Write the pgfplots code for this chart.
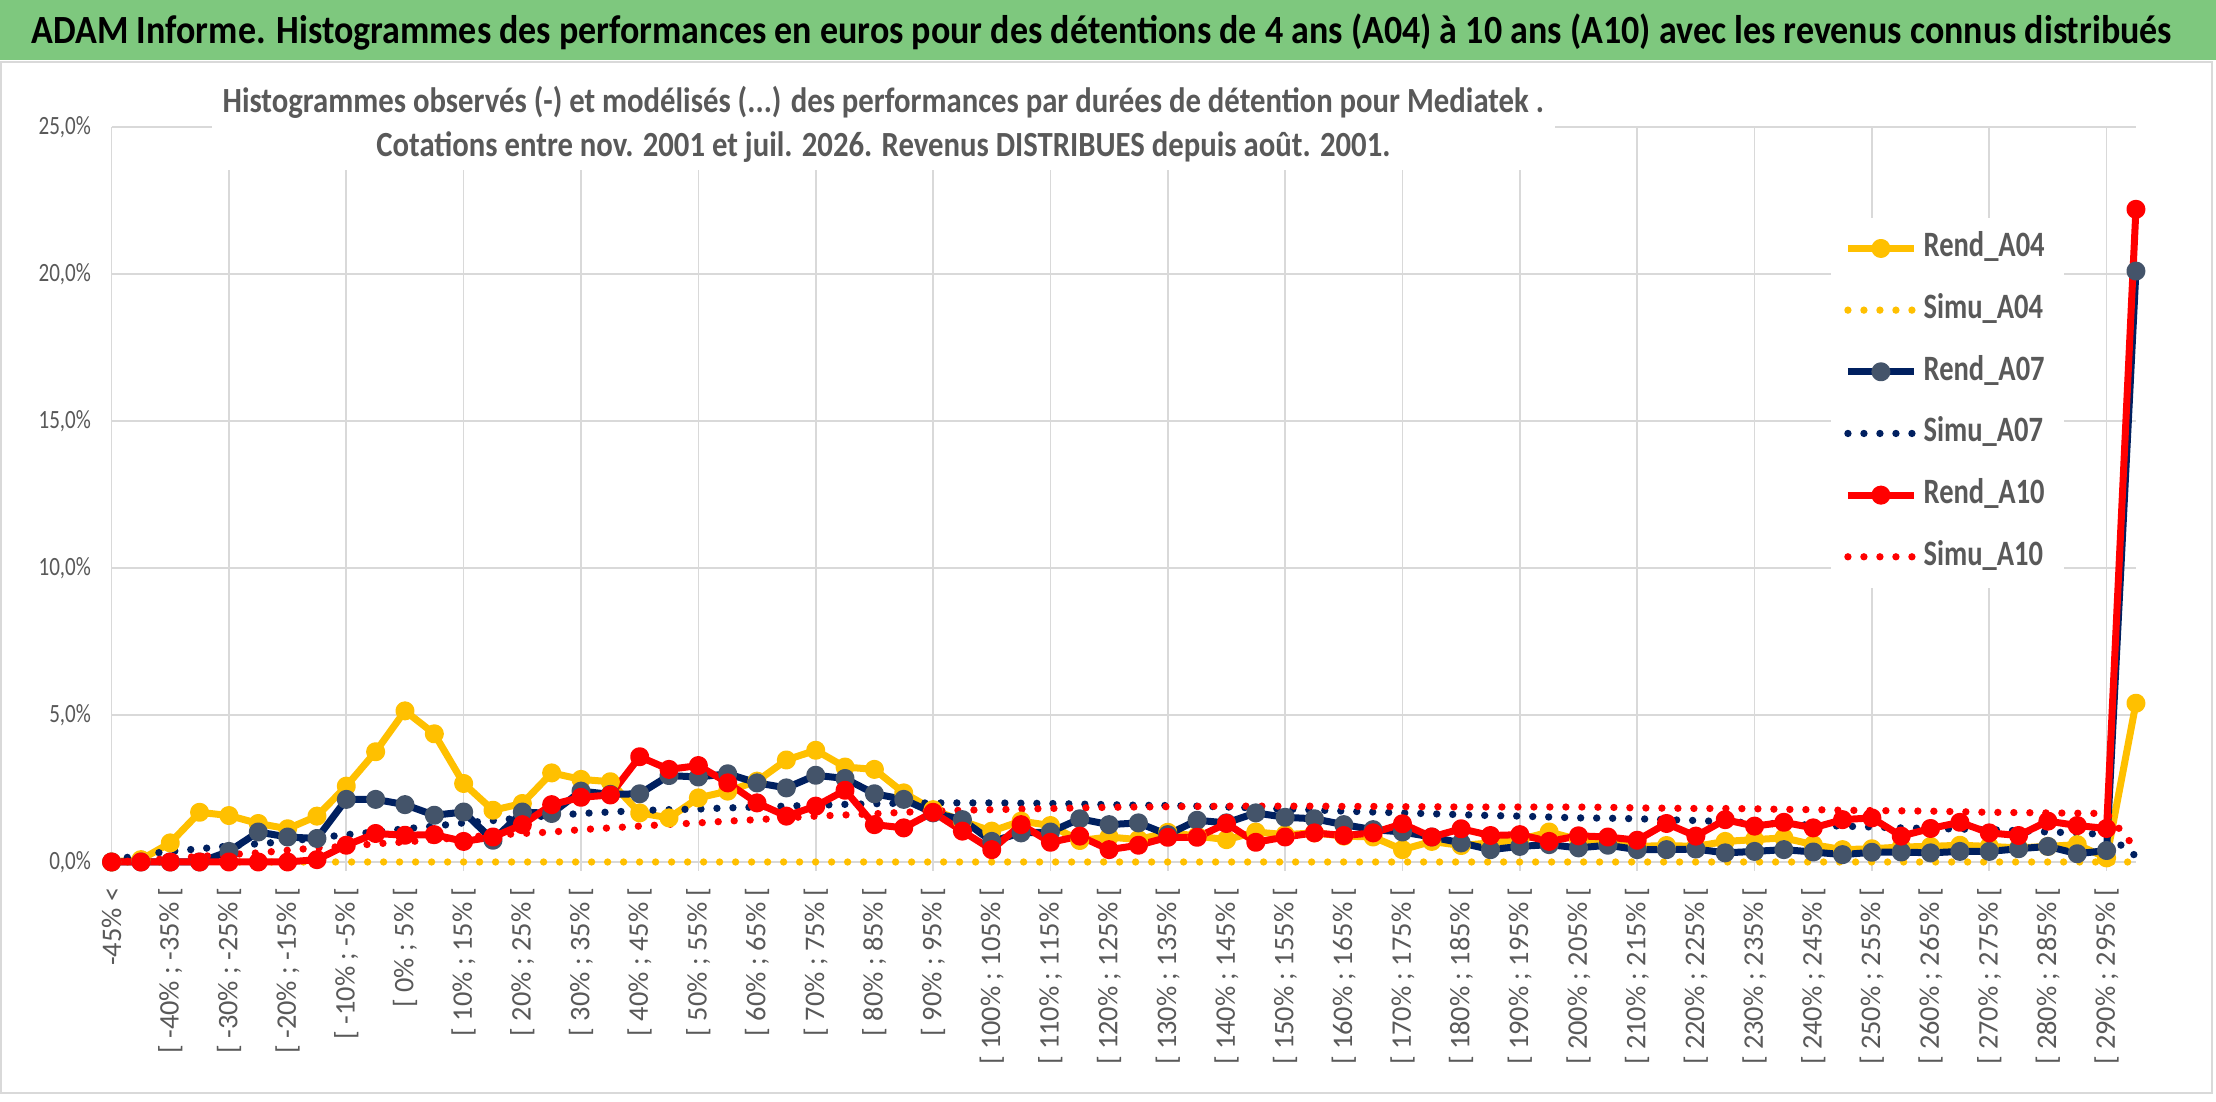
\documentclass[border=0pt]{standalone}
\usepackage{fontspec}
\setmainfont{Carlito}[FakeStretch=0.8]
\newfontfamily\titlefont{Carlito}[FakeStretch=0.9]
\newfontfamily\charttitlefont{Carlito}[FakeStretch=0.87]
\newfontfamily\xlabfont{Carlito}
\usepackage{pgfplots}
\pgfplotsset{compat=1.18}
\usepackage{pgfplotstable}
\definecolor{cyel}{HTML}{FFC000}
\definecolor{cnavy}{HTML}{002060}
\definecolor{cnavymk}{HTML}{44546A}
\definecolor{cred}{HTML}{FF0000}
\definecolor{gridgray}{HTML}{D9D9D9}
\definecolor{textgray}{HTML}{595959}
\definecolor{titlegreen}{HTML}{7EC87E}

\pgfplotstableread{
i a04 s04 a07 s07 a10 s10
0 0.00 0 0.00 0.05 0.00 0.00
1 0.08 0 0.00 0.25 0.00 0.05
2 0.65 0 0.00 0.36 0.00 0.12
3 1.69 0 0.00 0.45 0.00 0.19
4 1.58 0 0.36 0.54 0.00 0.25
5 1.31 0 1.02 0.62 0.00 0.31
6 1.13 0 0.85 0.70 0.00 0.40
7 1.56 0 0.80 0.82 0.08 0.48
8 2.58 0 2.13 0.93 0.57 0.53
9 3.75 0 2.13 1.02 0.97 0.62
10 5.14 0 1.95 1.13 0.91 0.68
11 4.36 0 1.59 1.22 0.93 0.76
12 2.67 0 1.70 1.33 0.70 0.84
13 1.76 0 0.74 1.41 0.85 0.91
14 1.99 0 1.70 1.50 1.27 0.97
15 3.03 0 1.65 1.58 1.95 1.02
16 2.81 0 2.41 1.65 2.20 1.10
17 2.73 0 2.30 1.70 2.28 1.16
18 1.67 0 2.32 1.75 3.58 1.22
19 1.50 0 2.94 1.78 3.15 1.28
20 2.18 0 2.89 1.80 3.28 1.33
21 2.41 0 3.00 1.84 2.69 1.39
22 2.75 0 2.69 1.87 2.01 1.44
23 3.47 0 2.52 1.90 1.56 1.50
24 3.80 0 2.95 1.93 1.90 1.56
25 3.23 0 2.84 1.96 2.44 1.60
26 3.15 0 2.32 1.98 1.27 1.64
27 2.35 0 2.13 2.00 1.16 1.69
28 1.78 0 1.67 2.01 1.69 1.73
29 1.39 0 1.44 2.01 1.05 1.76
30 1.05 0 0.70 2.01 0.42 1.78
31 1.39 0 0.99 2.00 1.27 1.80
32 1.24 0 1.02 1.99 0.67 1.82
33 0.73 0 1.47 1.97 0.88 1.84
34 0.85 0 1.27 1.95 0.42 1.86
35 0.76 0 1.33 1.93 0.57 1.87
36 1.01 0 0.93 1.92 0.84 1.88
37 0.88 0 1.42 1.90 0.84 1.89
38 0.76 0 1.33 1.87 1.31 1.90
39 1.02 0 1.67 1.84 0.67 1.90
40 0.93 0 1.52 1.80 0.85 1.90
41 0.99 0 1.47 1.77 0.99 1.90
42 0.88 0 1.27 1.73 0.90 1.89
43 0.85 0 1.10 1.70 0.99 1.89
44 0.42 0 1.02 1.67 1.30 1.88
45 0.70 0 0.85 1.64 0.85 1.88
46 0.56 0 0.65 1.61 1.13 1.87
47 0.65 0 0.42 1.58 0.90 1.87
48 0.76 0 0.53 1.56 0.93 1.87
49 1.02 0 0.59 1.53 0.70 1.87
50 0.76 0 0.48 1.50 0.89 1.87
51 0.65 0 0.57 1.49 0.85 1.86
52 0.53 0 0.42 1.47 0.74 1.84
53 0.56 0 0.42 1.44 1.31 1.83
54 0.53 0 0.44 1.41 0.88 1.82
55 0.70 0 0.31 1.37 1.44 1.82
56 0.76 0 0.36 1.33 1.22 1.81
57 0.82 0 0.42 1.29 1.35 1.79
58 0.59 0 0.34 1.25 1.16 1.78
59 0.42 0 0.25 1.22 1.44 1.76
60 0.45 0 0.33 1.19 1.50 1.75
61 0.51 0 0.34 1.16 0.88 1.74
62 0.53 0 0.31 1.14 1.14 1.73
63 0.57 0 0.36 1.12 1.35 1.71
64 0.53 0 0.36 1.10 0.99 1.69
65 0.48 0 0.45 1.06 0.90 1.68
66 0.53 0 0.53 1.02 1.39 1.67
67 0.59 0 0.28 0.99 1.24 1.66
68 0.14 0 0.39 0.93 1.14 1.65
69 5.40 0 20.10 0.20 22.20 0.45
}\data

\begin{document}
\begin{tikzpicture}
\useasboundingbox (0,0) rectangle (664.8pt,-330.6pt);
\fill[white] (0,0) rectangle (664.8pt,-330.6pt);
\fill[titlegreen] (0,0) rectangle (664.8pt,-18pt);
\node[anchor=base, inner sep=0pt, font=\titlefont\bfseries\fontsize{12}{14}\selectfont, text=black] at (330.6pt,-13pt)
 {ADAM Informe. Histogrammes des performances en euros pour des détentions de 4 ans (A04) à 10 ans (A10) avec les revenus connus distribués};
\draw[gridgray, line width=0.6pt] (0.3pt,-18.6pt) rectangle (663.6pt,-327.9pt);

\begin{axis}[
  at={(33.48pt,-258.6pt)}, anchor=south west,
  scale only axis, width=607.3pt, height=220.5pt,
  xmin=0, xmax=69, ymin=0, ymax=25,
  clip=false,
  axis line style={draw=none},
  xtick pos=bottom, ytick pos=left,
  major tick length=0pt,
  ytick={0,5,10,15,20,25},
  yticklabels={{0,0\%},{5,0\%},{10,0\%},{15,0\%},{20,0\%},{25,0\%}},
  ymajorgrids,
  grid style={gridgray, line width=0.5pt},
  y tick label style={anchor=east, inner xsep=6pt, inner ysep=0pt, font=\fontsize{7.9}{9}\selectfont, text=textgray},
  xtick={0,2,...,68},
  xticklabels={{-45\% <},{[ -40\% ; -35\% [},{[ -30\% ; -25\% [},{[ -20\% ; -15\% [},{[ -10\% ; -5\% [},{[ 0\% ; 5\% [},{[ 10\% ; 15\% [},{[ 20\% ; 25\% [},{[ 30\% ; 35\% [},{[ 40\% ; 45\% [},{[ 50\% ; 55\% [},{[ 60\% ; 65\% [},{[ 70\% ; 75\% [},{[ 80\% ; 85\% [},{[ 90\% ; 95\% [},{[ 100\% ; 105\% [},{[ 110\% ; 115\% [},{[ 120\% ; 125\% [},{[ 130\% ; 135\% [},{[ 140\% ; 145\% [},{[ 150\% ; 155\% [},{[ 160\% ; 165\% [},{[ 170\% ; 175\% [},{[ 180\% ; 185\% [},{[ 190\% ; 195\% [},{[ 200\% ; 205\% [},{[ 210\% ; 215\% [},{[ 220\% ; 225\% [},{[ 230\% ; 235\% [},{[ 240\% ; 245\% [},{[ 250\% ; 255\% [},{[ 260\% ; 265\% [},{[ 270\% ; 275\% [},{[ 280\% ; 285\% [},{[ 290\% ; 295\% [}},
  x tick label style={rotate=90, anchor=east, inner xsep=7.5pt, inner ysep=0pt, font=\xlabfont\fontsize{8.5}{10}\selectfont, text=textgray},
  extra x ticks={0,4,...,68},
  extra x tick labels={},
  extra x tick style={grid=major, major tick length=2.7pt, tick align=outside, tick style={gridgray, line width=0.5pt}},
  legend cell align=left,
  legend image code/.code={\draw[mark repeat=2,mark phase=2,#1] plot coordinates {(0pt,0pt) (9.9pt,0pt) (19.8pt,0pt)};},
  legend style={at={(0.849,0.8776)}, anchor=north west, draw=none, fill=white,
     inner xsep=4pt, inner ysep=4.75pt, row sep=9.5pt,
     font=\bfseries\fontsize{10.7}{12}\selectfont, text=textgray,
     nodes={inner xsep=1.8pt, inner ysep=0pt, text height=7pt, text depth=2pt}},
  rend/.style={line width=2.1pt, line join=round, mark=*, mark size=1.8pt, mark options={solid}},
  simu/.style={line width=2.2pt, line cap=round, dash pattern=on 0pt off 4.8pt},
]
\addplot[rend, cyel, mark options={fill=cyel, draw=cyel}] table[x=i, y=a04] {\data};
\addlegendentry{Rend\_A04}
\addplot[simu, cyel] table[x=i, y=s04] {\data};
\addlegendentry{Simu\_A04}
\addplot[rend, cnavy, mark options={fill=cnavymk, draw=cnavymk}] table[x=i, y=a07] {\data};
\addlegendentry{Rend\_A07}
\addplot[simu, cnavy] table[x=i, y=s07] {\data};
\addlegendentry{Simu\_A07}
\addplot[rend, cred, mark options={fill=cred, draw=cred}] table[x=i, y=a10] {\data};
\addlegendentry{Rend\_A10}
\addplot[simu, cred] table[x=i, y=s10] {\data};
\addlegendentry{Simu\_A10}
\end{axis}

\fill[white] (63.6pt,-22.5pt) rectangle (466.5pt,-51pt);
\node[anchor=base, inner sep=0pt, font=\charttitlefont\bfseries\fontsize{10.6}{12}\selectfont, text=textgray] at (265pt,-33.9pt)
 {Histogrammes observés (-) et modélisés (...) des performances par durées de détention pour Mediatek .};
\node[anchor=base, inner sep=0pt, font=\charttitlefont\bfseries\fontsize{10.6}{12}\selectfont, text=textgray] at (265pt,-47.1pt)
 {Cotations entre nov. 2001 et juil. 2026. Revenus DISTRIBUES depuis août. 2001.};
\end{tikzpicture}
\end{document}
